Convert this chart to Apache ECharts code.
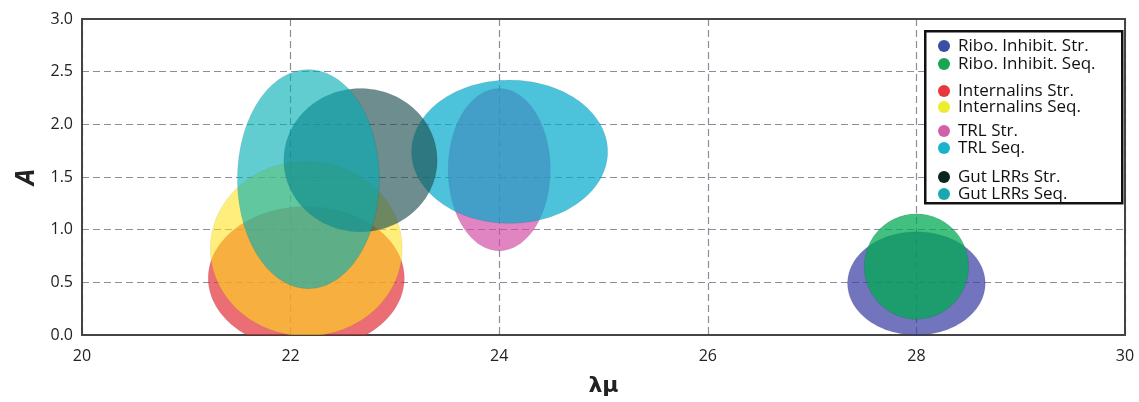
<!DOCTYPE html>
<html>
<head>
<meta charset="utf-8">
<script src="https://cdn.jsdelivr.net/npm/echarts@6/dist/echarts.min.js"></script>
<style>
html,body{margin:0;padding:0;background:#fff;}
#chart{width:1139px;height:402px;}
</style>
</head>
<body>
<div id="chart"></div>
<script>
// ---- data ----
const seriesNames = ['Ribo. Inhibit. Str.', 'Ribo. Inhibit. Seq.', 'Internalins Str.', 'Internalins Seq.',
  'TRL Str.', 'TRL Seq.', 'Gut LRRs Str.', 'Gut LRRs Seq.'];
const centerX = [28.0, 28.0, 22.15, 22.15, 24.0, 24.1, 22.67, 22.17];
const centerY = [0.49, 0.65, 0.54, 0.82, 1.57, 1.74, 1.66, 1.48];
const radiusX = [0.66, 0.50, 0.94, 0.92, 0.49, 0.94, 0.735, 0.68];
const radiusY = [0.49, 0.50, 0.68, 0.83, 0.77, 0.68, 0.68, 1.04];
const xTicks = [20, 22, 24, 26, 28, 30];
const yTicks = [0.0, 0.5, 1.0, 1.5, 2.0, 2.5, 3.0];

// fill colour and opacity of each ellipse, and legend dot colours
const colors = ['#363ba2', '#00aa52', '#e4303b', '#ffe117', '#d34aa5', '#00aacb', '#1e5052', '#00aeb4'];
const opacities = [0.7, 0.74, 0.7, 0.57, 0.68, 0.7, 0.65, 0.62];
const legendDot = ['#3b4ea5', '#1aa556', '#e8383d', '#ecec30', '#d35fa8', '#19b4cc', '#0a2424', '#1aa8b0'];
const legendCenters = [46, 64, 91, 107, 131, 148, 177, 194];

const chart = echarts.init(document.getElementById('chart'));
const X_MIN = xTicks[0], X_MAX = xTicks[xTicks.length - 1];
const Y_MIN = yTicks[0], Y_MAX = yTicks[yTicks.length - 1];

function makeRender(op) {
  return function (params, api) {
    const cx = api.value(0), cy = api.value(1), rx = api.value(2), ry = api.value(3);
    const pts = [];
    const N = 144;
    for (let k = 0; k < N; k++) {
      const t = 2 * Math.PI * k / N;
      let x = cx + rx * Math.cos(t);
      let y = cy + ry * Math.sin(t);
      x = Math.min(X_MAX, Math.max(X_MIN, x));
      y = Math.min(Y_MAX, Math.max(Y_MIN, y));
      pts.push(api.coord([x, y]));
    }
    return {
      type: 'polygon',
      shape: { points: pts },
      style: { fill: api.visual('color'), opacity: op, stroke: 'rgba(0,0,0,0.1)', lineWidth: 1 }
    };
  };
}

const series = seriesNames.map((name, i) => ({
  name: name,
  type: 'custom',
  renderItem: makeRender(opacities[i]),
  itemStyle: { color: colors[i] },
  encode: { x: 0, y: 1 },
  data: [[centerX[i], centerY[i], radiusX[i], radiusY[i]]],
  z: 2 + i
}));

const legends = seriesNames.map((name, i) => ({
  data: [{ name: name, itemStyle: { color: legendDot[i] } }],
  left: 938,
  top: legendCenters[i] - 9,
  orient: 'vertical',
  icon: 'circle',
  itemWidth: 12,
  itemHeight: 12,
  itemGap: 0,
  padding: 0,
  selectedMode: false,
  textStyle: { fontFamily: 'Open Sans', fontSize: 17, lineHeight: 18, color: '#111', padding: [0, 0, 0, 3] },
  z: 20
}));

const option = {
  backgroundColor: '#ffffff',
  animation: false,
  grid: { left: 82, right: 14, top: 19, bottom: 65, show: true, borderColor: '#444', borderWidth: 2, backgroundColor: 'transparent', z: 1 },
  xAxis: {
    type: 'value', min: X_MIN, max: X_MAX, interval: 2,
    name: 'λμ', nameLocation: 'middle', nameGap: 40,
    nameTextStyle: { fontFamily: 'DejaVu Sans', fontWeight: 'bold', fontSize: 22, color: '#222' },
    axisLine: { show: false }, axisTick: { show: false },
    axisLabel: { fontFamily: 'Open Sans', fontSize: 16, color: '#222', margin: 13 },
    splitLine: { show: true, lineStyle: { type: [7, 4], color: '#8c8c9c', width: 1.2 } }
  },
  yAxis: {
    type: 'value', min: Y_MIN, max: Y_MAX, interval: 0.5,
    name: 'A', nameLocation: 'middle', nameGap: 40, nameRotate: 90,
    nameTextStyle: { fontFamily: 'Open Sans', fontWeight: 'bold', fontStyle: 'italic', fontSize: 26, color: '#222' },
    axisLine: { show: false }, axisTick: { show: false },
    axisLabel: { fontFamily: 'Open Sans', fontSize: 16, color: '#222', margin: 9, formatter: v => v.toFixed(1) },
    splitLine: { show: true, lineStyle: { type: [7, 4], color: '#8c8c9c', width: 1.2 } }
  },
  legend: legends,
  graphic: [{
    type: 'rect', left: 924, top: 30, z: 15,
    shape: { width: 197, height: 172 },
    style: { fill: '#fff', stroke: '#111', lineWidth: 2.5 }
  }],
  series: series
};
chart.setOption(option);
</script>
</body>
</html>
